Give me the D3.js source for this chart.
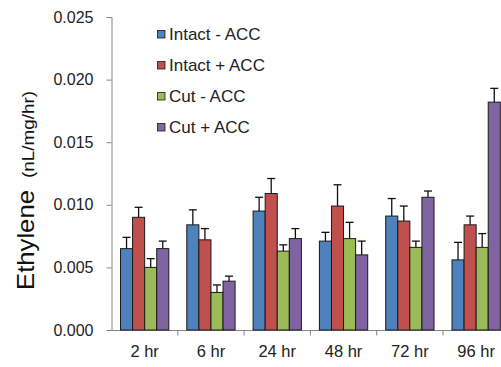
<!DOCTYPE html>
<html>
<head>
<meta charset="utf-8">
<script src="https://cdn.jsdelivr.net/npm/d3@7"></script>
<style>
  body { margin: 0; background: #fff; }
  svg { display: block; font-family: Arial, "Liberation Sans", sans-serif; }
</style>
</head>
<body>
<svg id="chart" width="501" height="367"></svg>
<script>
const categories = ["2 hr", "6 hr", "24 hr", "48 hr", "72 hr", "96 hr"];
const series = ["Intact - ACC", "Intact + ACC", "Cut - ACC", "Cut + ACC"];
const colors = ["#4F81BD", "#C0504D", "#9BBB59", "#8064A2"];

// mean values per series, one per category
const intactMinus = [0.0065, 0.0084, 0.0095, 0.0071, 0.0091, 0.0056];
const intactPlus  = [0.0090, 0.0072, 0.0109, 0.0099, 0.0087, 0.0084];
const cutMinus    = [0.0050, 0.0030, 0.0063, 0.0073, 0.0066, 0.0066];
const cutPlus     = [0.0065, 0.0039, 0.0073, 0.0060, 0.0106, 0.0182];

// error bar (upper) sizes
const intactMinusErr = [0.0009, 0.0012, 0.0011, 0.0007, 0.0014, 0.0014];
const intactPlusErr  = [0.0008, 0.0009, 0.0012, 0.0017, 0.0012, 0.0007];
const cutMinusErr    = [0.0007, 0.0006, 0.0005, 0.0013, 0.0005, 0.0011];
const cutPlusErr     = [0.0006, 0.0004, 0.0008, 0.0011, 0.0005, 0.0011];

const yTicks = [0, 0.005, 0.010, 0.015, 0.020, 0.025];

const values = [intactMinus, intactPlus, cutMinus, cutPlus];
const errors = [intactMinusErr, intactPlusErr, cutMinusErr, cutPlusErr];

const data = categories.map((c, i) => ({
  cat: c,
  bars: series.map((s, j) => ({ key: s, value: values[j][i], err: errors[j][i], color: colors[j] }))
}));

const svg = d3.select("#chart");
const axisColor = "#868686";

const x0 = d3.scaleBand()
  .domain(categories)
  .range([111.5, 111.5 + 6 * 66.3])
  .padding(0);

const x1 = d3.scaleBand()
  .domain(series)
  .range([9, x0.bandwidth() - 9])
  .padding(0);

const y = d3.scaleLinear()
  .domain([0, 0.025])
  .range([330, 17]);

// y axis
const yAxis = svg.append("g")
  .attr("transform", "translate(111.5,0)")
  .call(d3.axisLeft(y).tickValues(yTicks).tickFormat(d3.format(".3f")).tickSize(5).tickPadding(13));
yAxis.select(".domain").attr("stroke", axisColor);
yAxis.selectAll(".tick line").attr("stroke", axisColor);
yAxis.selectAll(".tick text")
  .attr("font-size", "16px")
  .attr("fill", "#222")
  .attr("font-family", "Arial, 'Liberation Sans', sans-serif");

// x axis: ticks at category boundaries
const xAxis = svg.append("g")
  .attr("transform", "translate(0,330.5)");
xAxis.append("line")
  .attr("x1", x0.range()[0])
  .attr("x2", x0.range()[1])
  .attr("stroke", axisColor);
xAxis.selectAll(".sep")
  .data(categories.slice(1))
  .enter()
  .append("line")
  .attr("x1", d => x0(d))
  .attr("x2", d => x0(d))
  .attr("y1", 0)
  .attr("y2", 5)
  .attr("stroke", axisColor);
xAxis.selectAll(".lbl")
  .data(categories)
  .enter()
  .append("text")
  .attr("x", d => x0(d) + x0.bandwidth() / 2)
  .attr("y", 26.5)
  .attr("text-anchor", "middle")
  .attr("font-size", "16.5px")
  .attr("fill", "#222")
  .text(d => d);

// bars
const groups = svg.selectAll(".grp")
  .data(data)
  .enter()
  .append("g")
  .attr("class", "grp")
  .attr("transform", d => `translate(${x0(d.cat)},0)`);

groups.selectAll("rect")
  .data(d => d.bars)
  .enter()
  .append("rect")
  .attr("x", d => x1(d.key))
  .attr("y", d => y(d.value))
  .attr("width", x1.bandwidth())
  .attr("height", d => y(0) - y(d.value))
  .attr("fill", d => d.color)
  .attr("stroke", "#1a1a1a")
  .attr("stroke-width", 1);

// error bars (upper only)
const eb = groups.selectAll(".err")
  .data(d => d.bars)
  .enter()
  .append("g")
  .attr("class", "err")
  .attr("transform", d => `translate(${x1(d.key) + x1.bandwidth() / 2},0)`);
eb.append("line")
  .attr("y1", d => y(d.value))
  .attr("y2", d => y(d.value + d.err))
  .attr("stroke", "#111")
  .attr("stroke-width", 1.3);
eb.append("line")
  .attr("x1", -4)
  .attr("x2", 4)
  .attr("y1", d => y(d.value + d.err))
  .attr("y2", d => y(d.value + d.err))
  .attr("stroke", "#111")
  .attr("stroke-width", 1.3);

// y title
const title = svg.append("text")
  .attr("transform", "translate(34,290) rotate(-90)")
  .attr("fill", "#111");
title.append("tspan")
  .attr("font-size", "24px")
  .attr("textLength", 100)
  .attr("lengthAdjust", "spacingAndGlyphs")
  .text("Ethylene");
title.append("tspan")
  .attr("font-size", "17px")
  .attr("dx", 12)
  .attr("textLength", 87)
  .attr("lengthAdjust", "spacingAndGlyphs")
  .text("(nL/mg/hr)");

// legend
const legend = svg.append("g")
  .attr("transform", "translate(157,30)");
legend.selectAll("g")
  .data(series)
  .enter()
  .append("g")
  .attr("transform", (d, i) => `translate(0, ${i * 31})`)
  .each(function (d, i) {
    const g = d3.select(this);
    g.append("rect")
      .attr("x", 0.5)
      .attr("y", 0.5)
      .attr("width", 7.5)
      .attr("height", 7.5)
      .attr("fill", colors[i])
      .attr("stroke", "#1a1a1a")
      .attr("stroke-width", 0.8);
    g.append("text")
      .attr("x", 12)
      .attr("y", 10)
      .attr("font-size", "17px")
      .attr("fill", "#222")
      .text(d);
  });
</script>
</body>
</html>
